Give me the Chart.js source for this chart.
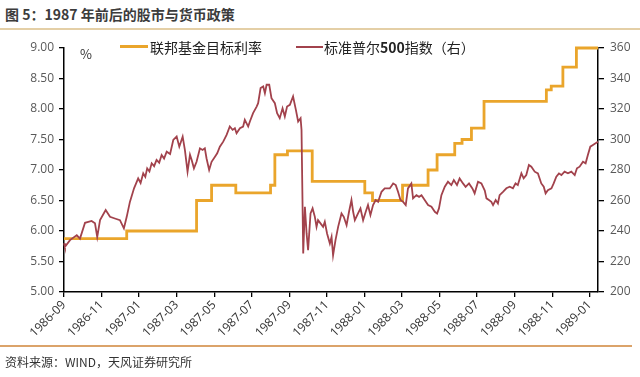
<!DOCTYPE html>
<html><head><meta charset="utf-8">
<script src="https://cdn.jsdelivr.net/npm/chart.js@4/dist/chart.umd.min.js"></script>
<style>
html,body{margin:0;padding:0;background:#fff;}
#wrap{position:relative;width:640px;height:377px;overflow:hidden;font-family:"Noto Sans CJK SC","Noto Sans",sans-serif;}
#c{position:absolute;left:0;top:0;}
#title{position:absolute;left:5px;top:4px;font-size:14px;font-weight:bold;color:#3c3c3c;white-space:nowrap;line-height:20px;}
#topline{position:absolute;left:0;top:28px;width:640px;height:2px;background:#e4cfa6;}
#botline{position:absolute;left:0;top:345px;width:632px;height:2px;background:#dba36a;}
#source{position:absolute;left:5px;top:354px;font-size:12px;color:#333;line-height:16px;white-space:nowrap;}
.legtxt{position:absolute;top:38px;font-size:14px;color:#222;line-height:18px;white-space:nowrap;}
.legline{position:absolute;}
#pct{position:absolute;left:80px;top:46px;font-size:13px;color:#333;line-height:16px;}
</style>
</head><body>
<div id="wrap">
  <div id="title">图 5：1987 年前后的股市与货币政策</div>
  <div id="topline"></div>
  <canvas id="c" width="640" height="377"></canvas>
  <div class="legline" style="left:120px;top:45px;width:28px;height:3px;background:#eaa52b;"></div>
  <div class="legtxt" style="left:150px;">联邦基金目标利率</div>
  <div class="legline" style="left:296px;top:46px;width:27px;height:2px;background:#a2424c;"></div>
  <div class="legtxt" style="left:324px;">标准普尔<b>500</b>指数（右）</div>
  <div id="pct">%</div>
  <div id="botline"></div>
  <div id="source">资料来源：WIND，天风证券研究所</div>
</div>
<script>
// x values are months elapsed since 1986-09
const tickLabels = ["1986-09","1986-11","1987-01","1987-03","1987-05","1987-07","1987-09","1987-11","1988-01","1988-03","1988-05","1988-07","1988-09","1988-11","1989-01"];
const tickMonths = [0,2,4,6,8,10,12,14,16,18,20,22,24,26,28];

const fedMonths = [0, 3.34, 7.06, 7.86, 9.15, 11.0, 11.23, 11.90, 13.22, 16.02, 16.43, 18.03, 19.39, 19.87, 20.81, 21.20, 21.70, 22.37, 25.69, 25.95, 26.57, 27.29, 28.44];
const fedRate   = [5.875, 6.0, 6.5, 6.75, 6.625, 6.75, 7.25, 7.3125, 6.8125, 6.625, 6.5, 6.75, 7.0, 7.25, 7.4375, 7.5, 7.6875, 8.125, 8.3125, 8.375, 8.6875, 9.0, 9.0];

const spMonths = [0,0.05,0.32,0.68,0.85,1.12,1.47,1.65,1.77,1.92,2.22,2.45,2.71,2.98,3.19,3.34,3.51,3.73,3.95,4.08,4.22,4.33,4.43,4.55,4.67,4.80,4.93,5.07,5.20,5.33,5.47,5.65,5.82,6.00,6.14,6.32,6.44,6.58,6.71,6.80,6.92,7.06,7.24,7.38,7.50,7.59,7.73,7.86,8.04,8.16,8.30,8.48,8.66,8.83,8.98,9.10,9.19,9.37,9.54,9.63,9.81,9.90,10.07,10.26,10.34,10.47,10.61,10.70,10.79,10.93,11.05,11.23,11.35,11.49,11.64,11.76,11.88,12.03,12.20,12.35,12.47,12.60,12.65,12.74,12.83,12.92,13.00,13.13,13.24,13.36,13.45,13.53,13.66,13.80,13.89,14.01,14.16,14.25,14.33,14.46,14.60,14.78,14.90,15.05,15.18,15.31,15.40,15.49,15.66,15.79,15.93,16.07,16.19,16.32,16.46,16.60,16.73,16.91,17.08,17.35,17.53,17.67,17.79,17.92,18.06,18.20,18.32,18.50,18.59,18.77,18.91,19.04,19.21,19.39,19.57,19.75,19.87,19.97,20.10,20.28,20.45,20.63,20.76,20.93,21.07,21.25,21.39,21.57,21.75,21.87,22.05,22.23,22.41,22.50,22.63,22.76,22.85,22.99,23.11,23.20,23.38,23.56,23.74,23.91,24.05,24.17,24.36,24.48,24.62,24.76,24.89,25.07,25.24,25.42,25.55,25.65,25.77,25.96,26.08,26.22,26.36,26.49,26.66,26.84,27.02,27.20,27.32,27.46,27.64,27.78,27.90,28.03,28.17,28.31,28.44];
const spIndex = [232,229.6,234,237.3,235,245.4,246.6,245,236.1,247.1,253.7,249.3,248.2,247.1,241.7,249.3,259.1,268,274.5,271.5,277.8,275.5,281.1,279,284.4,282.5,286.6,284.8,289.8,287.5,292,290.5,299.7,301.9,295.3,301.9,293.1,278.9,290,286.6,281.1,285.4,294.2,293.1,294.2,287.7,280,285.4,288.7,291,295.3,298.6,303,308.5,306.3,307.4,304.1,307.4,308.5,312.9,308.5,311.8,317.3,321.6,323.8,333.7,334.8,330.4,335.9,335.9,327.1,323.8,317.3,314,320.5,315.1,321.6,322.7,328.2,319.4,311.8,314,306.3,225.2,255.9,238.4,227.4,251.5,254.8,249.3,242.7,247.1,245,242.7,246,238.4,231.8,236.1,224.1,234,242.7,251.5,249.3,243.8,252.6,260.3,252.6,247.1,251.5,254.8,247.1,252.6,257,250.4,257,260.3,259.1,265.7,267.9,267.9,271.2,270.1,265.7,260.3,259.1,257,267.9,271.2,261.4,263.5,262.4,263.5,260.3,257,255.9,252.6,251.5,254.8,263.5,269,272.3,270.1,273.4,270.1,274.5,271.2,269,271.2,267.9,264.7,272.3,271.2,266.5,261.4,260.3,259.1,257,260.3,258.1,263.5,265.7,268,269,268,271.2,270.1,277.8,274.5,276.7,283.3,282.2,278.9,277.8,271.2,269,264.7,266.8,268,271.2,275.6,277.8,276.7,278.9,277.8,278.9,276.7,281.1,282.2,285.4,284.4,289.8,295.3,296.4,297.5,298.6];

const fedData = fedMonths.map((m,i)=>({x:m,y:fedRate[i]}));
const spData = spMonths.map((m,i)=>({x:m,y:spIndex[i]}));

const tickFont = {family:"'Open Sans','Noto Sans',sans-serif", size:12};
new Chart(document.getElementById('c'), {
  type:'line',
  data:{datasets:[
    {label:'联邦基金目标利率', data:fedData, yAxisID:'y', borderColor:'#eaa52b', borderWidth:2.8, stepped:true, pointRadius:0, clip:4, order:2},
    {label:'标准普尔500指数（右）', data:spData, yAxisID:'y1', borderColor:'#a2424c', borderWidth:1.8, pointRadius:0, tension:0, clip:4, order:1}
  ]},
  options:{
    responsive:false, animation:false,
    layout:{padding:{top:48,left:0,right:0,bottom:0}},
    plugins:{legend:{display:false}, tooltip:{enabled:false}},
    scales:{
      x:{type:'linear', min:0, max:28.44,
        afterBuildTicks:(s)=>{ s.ticks = tickMonths.map(v=>({value:v})); },
        afterFit:(s)=>{ s.height = 85; },
        ticks:{autoSkip:false, maxRotation:45, minRotation:45, color:'#333', font:{family:"'Open Sans','Noto Sans',sans-serif", size:12}, padding:1,
          callback:(v)=>{ const i = tickMonths.indexOf(v); return i>=0 ? tickLabels[i] : ''; }},
        grid:{drawOnChartArea:false, drawTicks:true, tickLength:5, color:'#000', lineWidth:1.3},
        border:{color:'#000', width:1.5}
      },
      y:{position:'left', min:5, max:9,
        afterFit:(s)=>{ s.width = 64; },
        ticks:{stepSize:0.5, color:'#595959', font:tickFont, padding:5, callback:(v)=>v.toFixed(2)},
        grid:{drawOnChartArea:false, drawTicks:true, tickLength:5, color:'#000', lineWidth:1.3},
        border:{color:'#000', width:1.5}
      },
      y1:{position:'right', min:200, max:360,
        afterFit:(s)=>{ s.width = 42; },
        ticks:{stepSize:20, color:'#595959', font:tickFont, padding:6},
        grid:{drawOnChartArea:false, drawTicks:true, tickLength:6, color:'#000', lineWidth:1.3},
        border:{color:'#000', width:1.5}
      }
    }
  }
});
</script>
</body></html>
